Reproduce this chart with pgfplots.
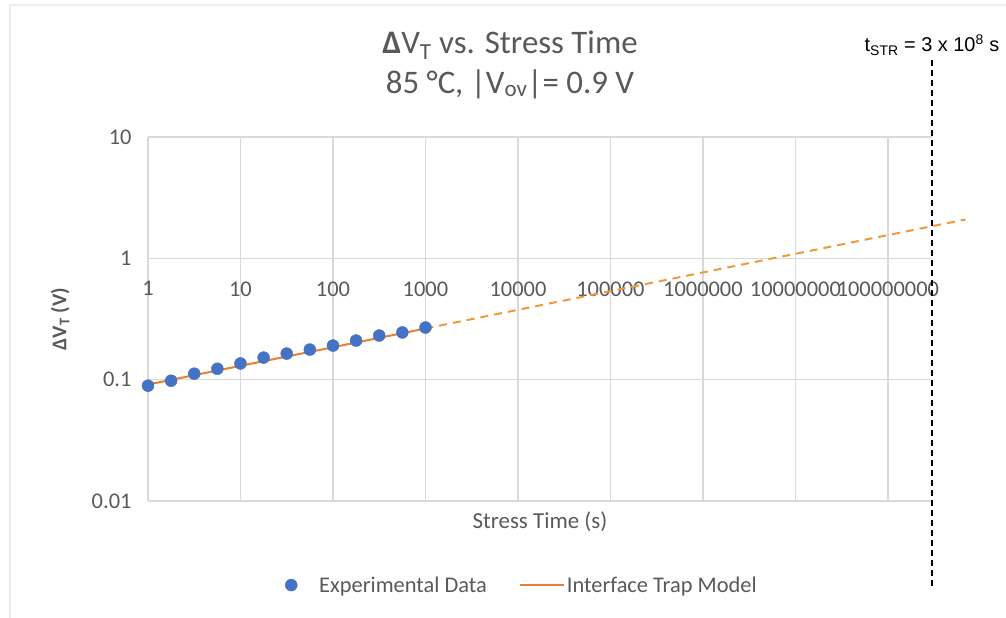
\documentclass[border=0pt]{standalone}
\usepackage{pgfplots}
\pgfplotsset{compat=1.18}
\usepackage{fontspec}
\setmainfont{Carlito}
\newfontfamily\arialfont{Liberation Sans}
\definecolor{txtgray}{HTML}{595959}
\definecolor{gridgray}{HTML}{D9D9D9}
\definecolor{axgray}{HTML}{BFBFBF}
\definecolor{eblue}{HTML}{4472C4}
\definecolor{eorange}{HTML}{ED7D31}
\definecolor{dorange}{HTML}{EE9A3A}
\pgfplotsset{
  mylegline/.style={legend image code/.code={\draw[##1] (0bp,0bp) -- (44bp,0bp);}},
}
\begin{document}
\begin{tikzpicture}[x=1bp,y=1bp]
\useasboundingbox (0,0) rectangle (1006,618);
\draw[black!7, line width=1.5bp] (10,0) -- (10,613) -- (1006,613);
\begin{axis}[
  at={(148bp,117bp)}, anchor=south west,
  scale only axis, width=784bp, height=364bp,
  xmode=log, ymode=log,
  xmin=1, xmax=3e8, ymin=0.01, ymax=10,
  xtick={1,10,100,1000,1e4,1e5,1e6,1e7,1e8},
  xticklabels={1,10,100,1000,10000,100000,1000000,10000000,100000000},
  ytick={0.01,0.1,1,10},
  yticklabels={0.01,0.1,1,10},
  extra y ticks={1}, extra y tick labels={},
  extra y tick style={grid style={axgray, line width=1.6bp}},
  minor x tick num=0, minor y tick num=0,
  xminorticks=false, yminorticks=false,
  major tick length=0pt,
  grid=major, major grid style={gridgray, line width=1.3bp},
  axis line style={draw=none},
  clip=false,
  /pgf/number format/assume math mode=true,
  tick label style={font=\fontsize{22.5}{26}\selectfont, text=txtgray},
  xticklabel style={yshift=223bp},
  yticklabel style={xshift=-13bp},
  xlabel={Stress Time (s)},
  xlabel style={at={(axis description cs:0.5,-0.058)}, anchor=center, font=\fontsize{23}{27}\selectfont, text=txtgray},
  ylabel={\textbf{ΔV\textsubscript{T} (V)}},
  ylabel style={at={(axis description cs:-0.112,0.5)}, anchor=center, font=\fontsize{21}{25}\selectfont, text=txtgray},
  legend columns=2,
  legend style={at={(axis description cs:0.477,-0.231)}, anchor=center, draw=none, fill=none,
    font=\fontsize{22.5}{26}\selectfont, text=txtgray,
    /tikz/every even column/.append style={column sep=30bp}},
]
\addplot[only marks, mark=*, mark size=6bp, mark options={fill=eblue, draw=eblue}] coordinates {
(1,0.0892) (1.778,0.098) (3.162,0.112) (5.623,0.123) (10,0.136) (17.78,0.152)
(31.62,0.164) (56.23,0.177) (100,0.191) (177.8,0.210) (316.2,0.231) (562.3,0.245) (1000,0.269)
};
\addlegendentry{\hspace{20bp}Experimental Data}
\addplot[eorange, line width=2bp, mylegline] coordinates {
(1,0.0912) (10,0.130) (100,0.185) (1000,0.264)
};
\addlegendentry{Interface Trap Model}
\addplot[dorange, line width=2bp, dash pattern=on 8bp off 6bp, forget plot] coordinates {
(1000,0.264) (3e8,1.84) (6.9e8,2.09)
};
\addplot[black, line width=1.6bp, dash pattern=on 6bp off 4bp, forget plot] coordinates {
(3e8,0.002) (3e8,43)
};
\end{axis}
\node[text=txtgray, font=\fontsize{33}{37}\selectfont] at (510,573) {\textbf{Δ}V\textsubscript{T} vs. Stress Time};
\node[text=txtgray, font=\fontsize{33}{37}\selectfont] at (510,534) {85 °C, |V\textsubscript{ov}|= 0.9 V};
\node[font=\arialfont\fontsize{20}{24}\selectfont] at (932,573) {t\textsubscript{STR} = 3 x 10\textsuperscript{8} s};
\end{tikzpicture}
\end{document}
